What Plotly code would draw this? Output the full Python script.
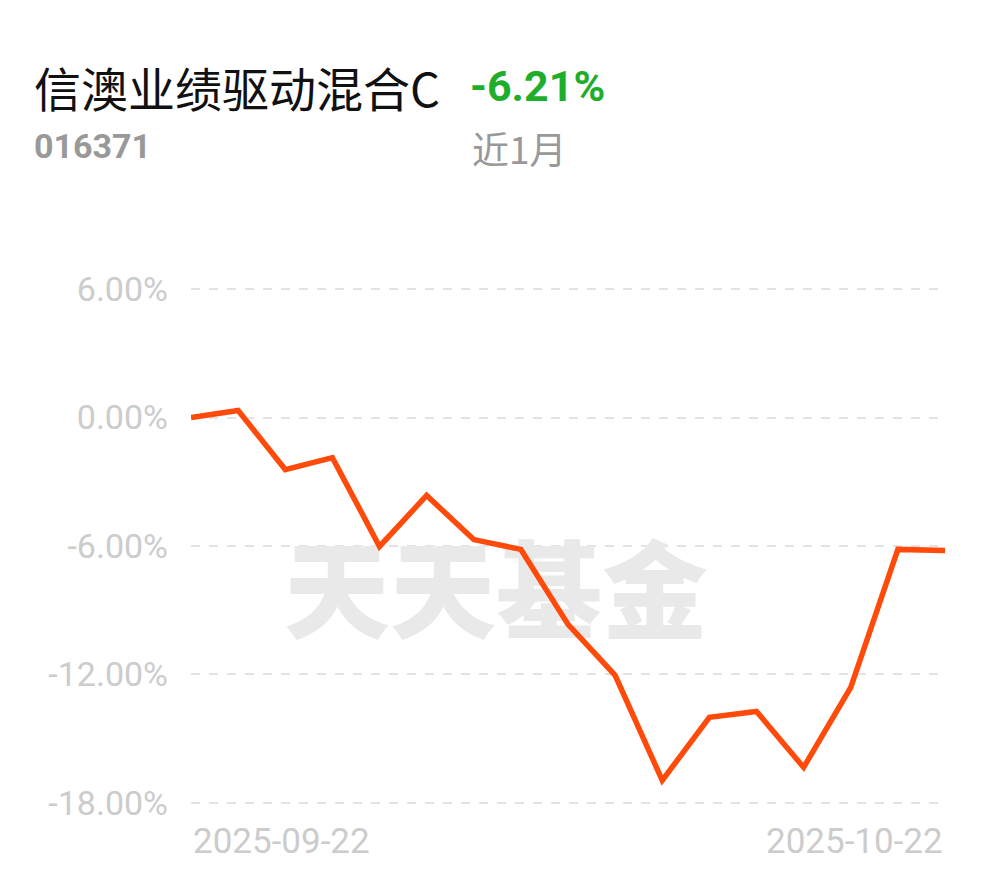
import plotly.graph_objects as go

dates = ["2025-09-22", "2025-09-23", "2025-09-24", "2025-09-25", "2025-09-26",
         "2025-09-29", "2025-09-30", "2025-10-09", "2025-10-10", "2025-10-13",
         "2025-10-14", "2025-10-15", "2025-10-16", "2025-10-17", "2025-10-20",
         "2025-10-21", "2025-10-22"]
returns = [0.00, 0.33, -2.43, -1.87, -6.02, -3.64, -5.70, -6.16, -9.66, -12.04,
           -16.95, -14.00, -13.73, -16.34, -12.60, -6.16, -6.21]
y_ticks = [6, 0, -6, -12, -18]
y_tick_labels = ["6.00%", "0.00%", "-6.00%", "-12.00%", "-18.00%"]
fund_name = "信澳业绩驱动混合C"
fund_code = "016371"
period_return = "-6.21%"
period_label = "近1月"
watermark = "天天基金"

fig = go.Figure()
# watermark drawn beneath the line
fig.add_trace(go.Scatter(
    x=[6.47], y=[-8.7], mode="text", text=[watermark],
    textposition="middle center",
    textfont=dict(size=106, color="#e9e9e9", family="Noto Sans CJK SC", weight=900),
    hoverinfo="skip", cliponaxis=False,
))
fig.add_trace(go.Scatter(
    x=list(range(len(dates))), y=returns, mode="lines",
    line=dict(color="#FF4A0A", width=5.5, shape="linear"),
    hoverinfo="skip", cliponaxis=False,
))

fig.update_layout(
    width=974, height=862,
    margin=dict(l=183, r=37, t=279, b=65),
    paper_bgcolor="white", plot_bgcolor="white",
    showlegend=False,
    font=dict(family="Roboto, 'Noto Sans CJK SC', sans-serif"),
    xaxis=dict(range=[0, len(dates) - 1], showgrid=False, zeroline=False,
               showticklabels=False, showline=False, fixedrange=True),
    yaxis=dict(range=[-18.1, 6.1], tickvals=y_ticks, ticktext=y_tick_labels,
               showgrid=True, gridcolor="#e3e3e3", griddash="dash", gridwidth=2,
               zeroline=False, showline=False, ticks="",
               tickfont=dict(size=34, color="#cccccc", family="Roboto"),
               ticklabelstandoff=22),
)

annotations = [
    dict(text=fund_name, xref="paper", yref="paper", x=-0.2109, y=1.388,
         xanchor="left", yanchor="middle", showarrow=False,
         font=dict(size=47, color="#111111", family="Noto Sans CJK SC")),
    dict(text="<b>" + period_return + "</b>", xref="paper", yref="paper", x=0.368, y=1.388,
         xanchor="left", yanchor="middle", showarrow=False,
         font=dict(size=43, color="#1fae2b", family="Roboto")),
    dict(text="<b>" + fund_code + "</b>", xref="paper", yref="paper", x=-0.2109, y=1.272,
         xanchor="left", yanchor="middle", showarrow=False,
         font=dict(size=34, color="#999999", family="Roboto")),
    dict(text=period_label, xref="paper", yref="paper", x=0.370, y=1.268,
         xanchor="left", yanchor="middle", showarrow=False,
         font=dict(size=37, color="#999999", family="Noto Sans CJK SC")),
    dict(text=dates[0], xref="x", yref="paper", x=0, y=-0.07,
         xanchor="left", yanchor="middle", showarrow=False,
         font=dict(size=35, color="#cccccc", family="Roboto")),
    dict(text=dates[-1], xref="x", yref="paper", x=len(dates) - 1, y=-0.07,
         xanchor="right", yanchor="middle", showarrow=False,
         font=dict(size=35, color="#cccccc", family="Roboto")),
]
fig.update_layout(annotations=annotations)

fig.write_html("out.html")
